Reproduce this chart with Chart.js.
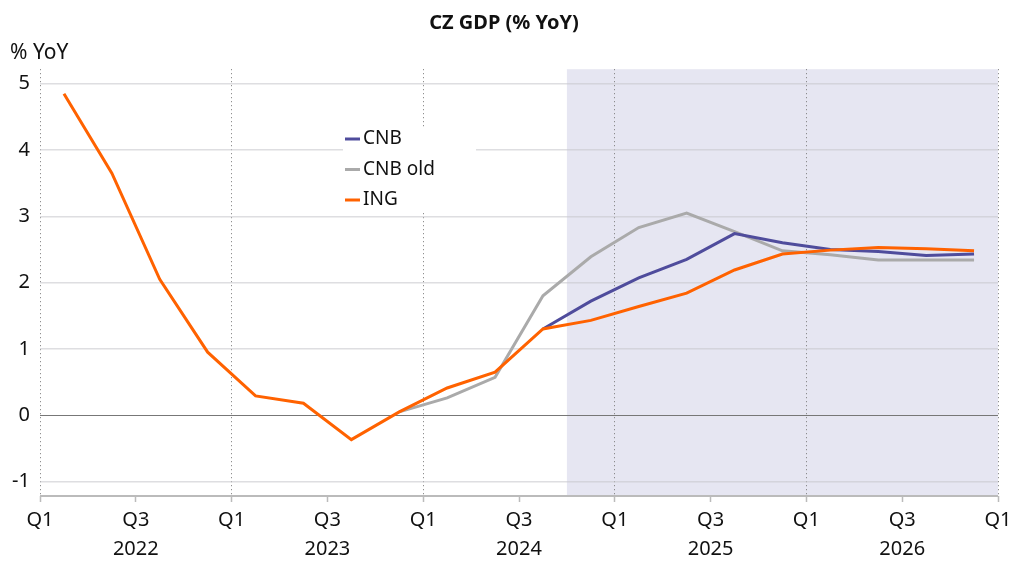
<!DOCTYPE html>
<html>
<head>
<meta charset="utf-8">
<script src="https://cdn.jsdelivr.net/npm/chart.js@4.4.1/dist/chart.umd.min.js"></script>
<style>
  html, body { margin: 0; padding: 0; background: #fff; }
  #wrap { width: 1024px; height: 576px; position: relative; }
</style>
</head>
<body>
<div id="wrap"><canvas id="gdpChart"></canvas></div>
<script>
// Quarterly data, 2022 Q1 .. 2026 Q4
const firstYear = 2022;
const quarterCount = 20;
const yTicks = [-1, 0, 1, 2, 3, 4, 5];

const ing = [4.85, 3.65, 2.05, 0.95, 0.29, 0.18, -0.37, 0.05, 0.41, 0.65,
  1.30, 1.43, 1.64, 1.84, 2.19, 2.43, 2.49, 2.53, 2.51, 2.48];
const cnb = [null, null, null, null, null, null, null, null, null, null,
  1.30, 1.72, 2.07, 2.35, 2.74, 2.60, 2.50, 2.47, 2.41, 2.43];
const cnbOld = [null, null, null, null, null, null, null, 0.05, 0.26, 0.57,
  1.80, 2.39, 2.83, 3.05, 2.77, 2.48, 2.42, 2.34, 2.34, 2.34];

// forecast period starts at 2024 Q4 (quarter index 11)
const forecastStart = 11;

const FONT = "'Noto Sans', sans-serif";

// points sit in the middle of each quarter
const toPoints = (arr) => arr.map((v, i) => ({ x: i + 0.5, y: v }));

// Shaded forecast band, drawn before the grid
const bandPlugin = {
  id: "band",
  beforeDraw(chart) {
    const { ctx, chartArea, scales } = chart;
    const x0 = scales.x.getPixelForValue(forecastStart);
    const x1 = scales.x.getPixelForValue(quarterCount);
    ctx.save();
    ctx.fillStyle = "#e6e6f2";
    ctx.fillRect(x0, chartArea.top, x1 - x0, chartArea.bottom - chartArea.top);
    ctx.restore();
  },
};

// Bottom axis line (solid, the grid itself is dotted)
const axisLine = {
  id: "axisLine",
  beforeDatasetsDraw(chart) {
    const { ctx, chartArea } = chart;
    ctx.save();
    ctx.strokeStyle = "#bbb";
    ctx.lineWidth = 2;
    ctx.beginPath();
    ctx.moveTo(chartArea.left, chartArea.bottom);
    ctx.lineTo(chartArea.right, chartArea.bottom);
    ctx.stroke();
    ctx.restore();
  },
};

// Legend box inside the plot
const boxLegend = {
  id: "boxLegend",
  afterDatasetsDraw(chart) {
    const { ctx } = chart;
    const left = 343, top = 127, rowH = 30.5;
    ctx.save();
    ctx.fillStyle = "#fff";
    ctx.fillRect(left, top, 133, 86);
    ctx.font = "19px " + FONT;
    ctx.textBaseline = "middle";
    chart.data.datasets.forEach((ds, i) => {
      const y = top + 12 + i * rowH;
      ctx.strokeStyle = ds.borderColor;
      ctx.lineWidth = 3;
      ctx.beginPath();
      ctx.moveTo(left + 2, y);
      ctx.lineTo(left + 17, y);
      ctx.stroke();
      ctx.fillStyle = "#111";
      ctx.fillText(ds.label, left + 20, y);
    });
    ctx.restore();
  },
};

const initChart = () => {
  const ctx = document.getElementById("gdpChart").getContext("2d");
  new Chart(ctx, {
    type: "line",
    data: {
      datasets: [
        { label: "CNB", data: toPoints(cnb), borderColor: "#4f4c9c", order: 1 },
        { label: "CNB old", data: toPoints(cnbOld), borderColor: "#aaaaaa", order: 2 },
        { label: "ING", data: toPoints(ing), borderColor: "#ff6200", order: 0 },
      ],
    },
    options: {
      responsive: true,
      maintainAspectRatio: false,
      animation: false,
      layout: { padding: { left: 10, right: 26, top: 5, bottom: 8 } },
      elements: {
        point: { radius: 0 },
        line: { borderWidth: 3, tension: 0, spanGaps: false },
      },
      plugins: {
        legend: { display: false },
        tooltip: { enabled: false },
        title: {
          display: true,
          text: "CZ GDP (% YoY)",
          color: "#111",
          font: { family: FONT, size: 20, weight: "bold" },
          padding: { top: 6, bottom: 5 },
        },
        subtitle: {
          display: true,
          text: "% YoY",
          align: "start",
          color: "#111",
          font: { family: FONT, size: 21 },
          padding: { top: 0, bottom: 4 },
        },
      },
      scales: {
        x: {
          type: "linear",
          min: 0,
          max: quarterCount,
          ticks: {
            stepSize: 2,
            autoSkip: false,
            maxRotation: 0,
            color: "#111",
            font: { family: FONT, size: 20, lineHeight: 1.45 },
            padding: 4,
            callback: (v) => {
              if (v % 4 === 0) return ["Q1", ""];
              return ["Q3", String(firstYear + Math.floor(v / 4))];
            },
          },
          grid: {
            color: (c) => (c.tick && c.tick.value % 4 === 0 ? "#777" : "rgba(0,0,0,0)"),
            lineWidth: 1,
            tickColor: "#bbb",
            tickBorderDash: [],
            tickLength: 6,
            tickWidth: 1.5,
          },
          border: { display: false, dash: [1, 3] },
        },
        y: {
          min: -1.22,
          max: 5.22,
          afterBuildTicks: (scale) => {
            scale.ticks = yTicks.map((v) => ({ value: v }));
          },
          afterFit: (scale) => {
            scale.width = 30;
          },
          ticks: {
            color: "#111",
            font: { family: FONT, size: 20 },
            padding: 10,
          },
          grid: {
            drawTicks: false,
            color: (c) => (c.tick && c.tick.value === 0 ? "#777" : "rgba(200,200,205,0.6)"),
            lineWidth: (c) => (c.tick && c.tick.value === 0 ? 1 : 1.5),
          },
          border: { display: false },
        },
      },
    },
    plugins: [bandPlugin, axisLine, boxLegend],
  });
};

document.addEventListener("DOMContentLoaded", initChart);
</script>
</body>
</html>
